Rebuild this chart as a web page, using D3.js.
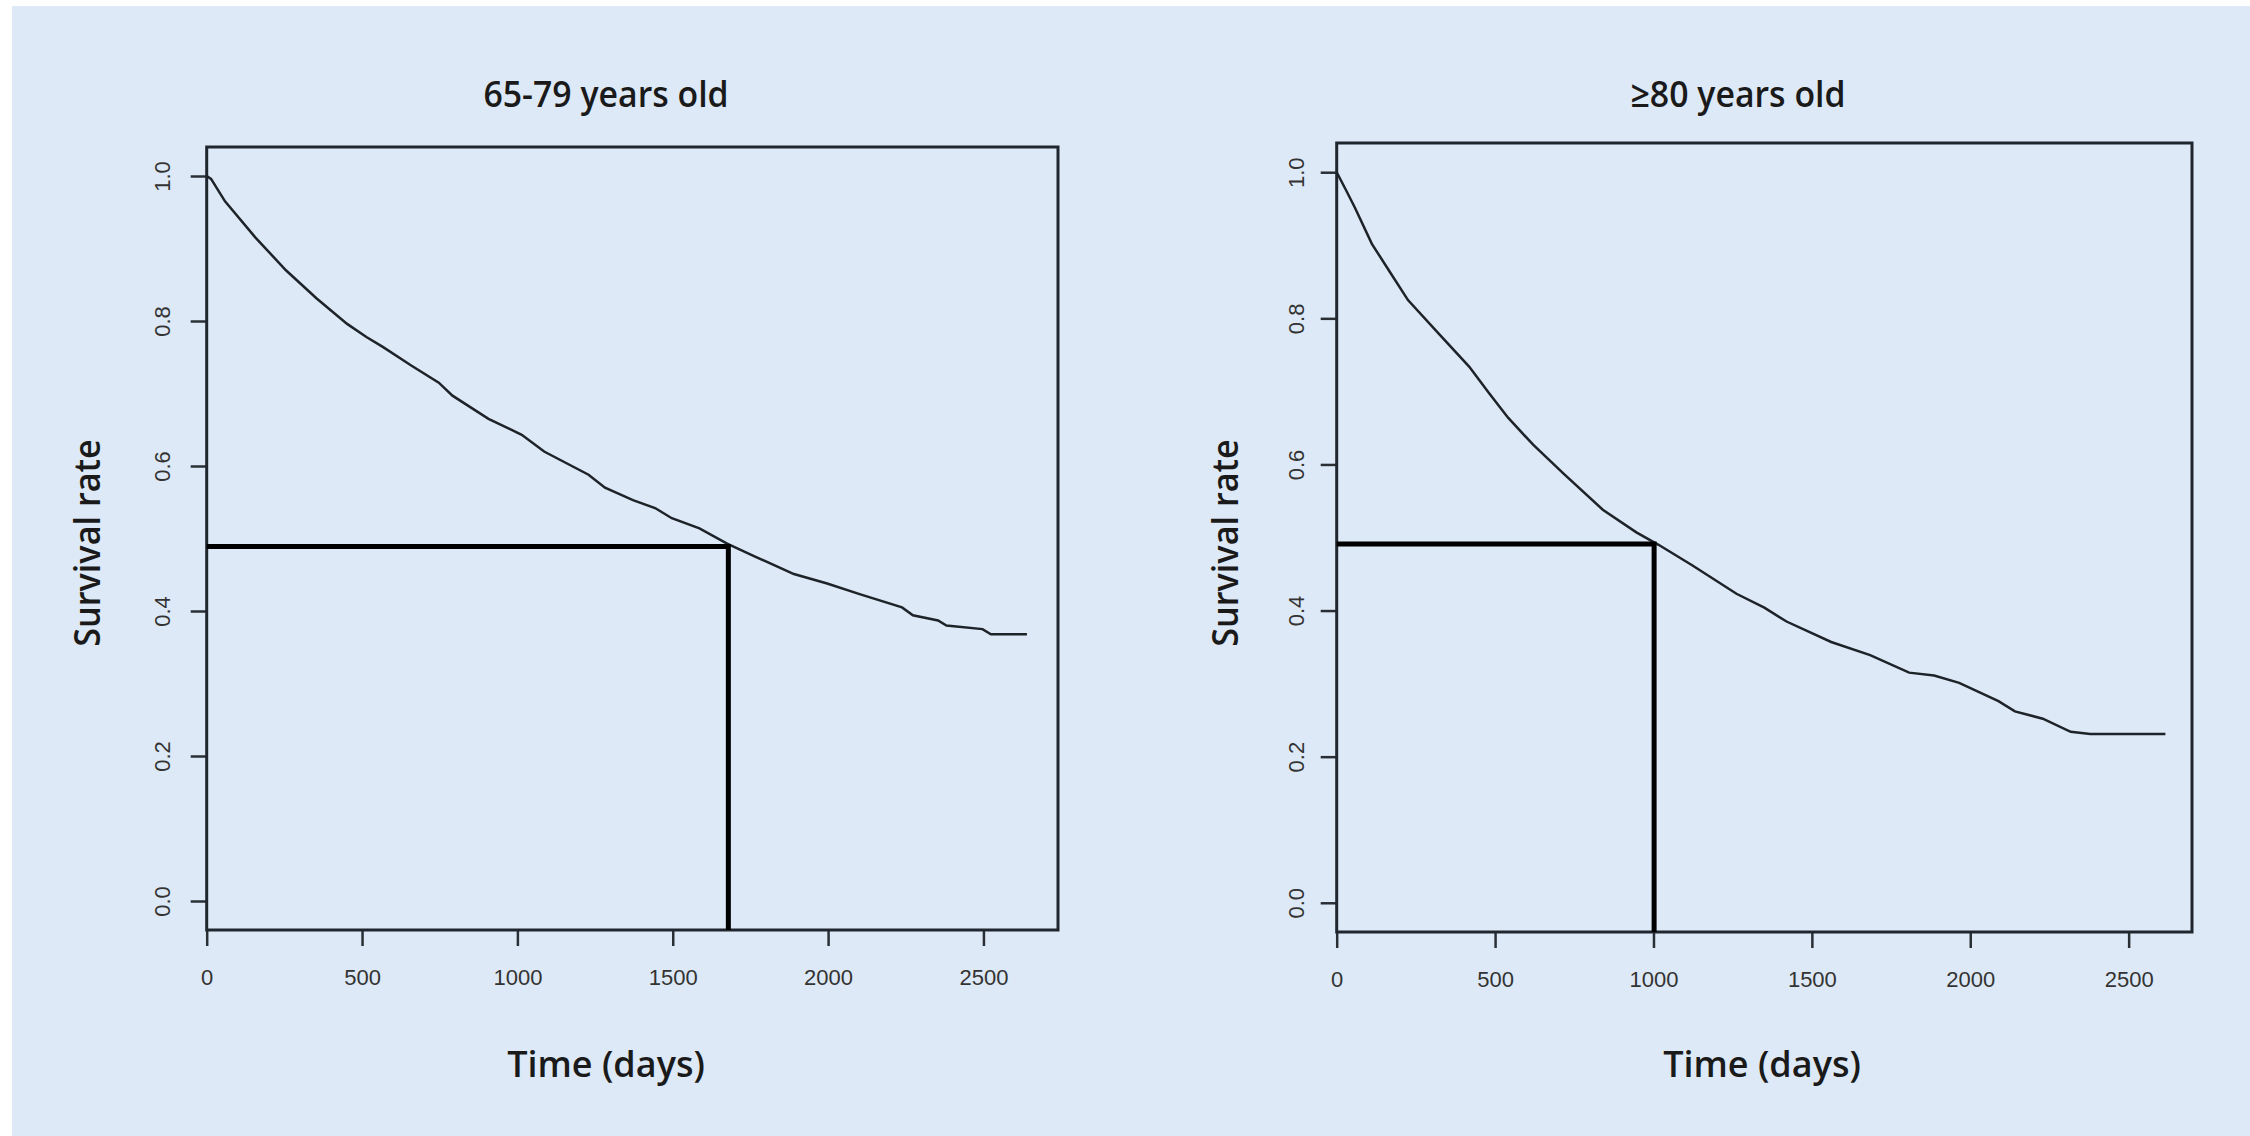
<!DOCTYPE html>
<html>
<head>
<meta charset="utf-8">
<script src="https://cdn.jsdelivr.net/npm/d3@7"></script>
<style>
  body { margin: 0; background: #ffffff; }
  .tick text { font-family: "Liberation Sans", Arial, sans-serif; font-size: 22px; fill: #333; }
  .lbl { font-family: "Open Sans", sans-serif; font-weight: 600; font-size: 36px; fill: #1a1a1a; }
</style>
</head>
<body>
<script>
// Kaplan-Meier curves
var titles = ["65-79 years old", "\u226580 years old"];

var days65 = [0, 14, 59, 157, 255, 354, 452, 514, 568, 657, 747, 791, 907, 1014, 1086, 1229, 1282, 1372, 1443, 1497, 1586, 1675, 1765, 1890, 1997, 2104, 2238, 2273, 2354, 2381, 2497, 2524, 2640];
var surv65 = [1.0, 0.996, 0.965, 0.915, 0.870, 0.831, 0.796, 0.778, 0.764, 0.739, 0.715, 0.697, 0.665, 0.643, 0.620, 0.588, 0.570, 0.553, 0.542, 0.528, 0.514, 0.493, 0.475, 0.451, 0.438, 0.423, 0.405, 0.394, 0.387, 0.380, 0.375, 0.368, 0.368];

var days80 = [0, 30, 58, 111, 170, 225, 322, 418, 480, 541, 620, 717, 840, 946, 1016, 1122, 1262, 1350, 1420, 1561, 1684, 1807, 1886, 1965, 2089, 2141, 2229, 2317, 2379, 2616];
var surv80 = [1.0, 0.975, 0.951, 0.902, 0.862, 0.825, 0.779, 0.734, 0.698, 0.664, 0.627, 0.587, 0.538, 0.507, 0.490, 0.462, 0.423, 0.404, 0.385, 0.357, 0.339, 0.315, 0.311, 0.301, 0.276, 0.262, 0.252, 0.234, 0.231, 0.231];

// median survival markers
var medianDays = [1679, 1002];
var medianSurv = [0.489, 0.491];

var xTicks = [0, 500, 1000, 1500, 2000, 2500];
var yTicks = [0.0, 0.2, 0.4, 0.6, 0.8, 1.0];

var width = 2250, height = 1136;

// panel layout
var panels = [
  {days: days65, surv: surv65, xMax: 2740, left: 206.7, right: 1058, top: 147, bottom: 930,
   titleX: 606, xLabX: 606, yLabX: 100, yTickOff: -37},
  {days: days80, surv: surv80, xMax: 2700, left: 1336.7, right: 2192, top: 143, bottom: 932,
   titleX: 1738, xLabX: 1762, yLabX: 1238, yTickOff: -33}
];

var svg = d3.select("body").append("svg")
            .attr("width", width)
            .attr("height", height);

svg.append("rect")
   .attr("x", 12).attr("y", 6)
   .attr("width", width - 12).attr("height", height - 6)
   .attr("fill", "#dde9f6");

panels.forEach(function(p, i){
    var x = d3.scaleLinear().domain([0, p.xMax]).range([p.left, p.right]);
    var y = d3.scaleLinear().domain([-0.04, 1.04]).range([p.bottom, p.top]);

    var g = svg.append("g");

    // x axis
    var xa = g.append("g")
              .attr("transform", "translate(0," + p.bottom + ")")
              .call(d3.axisBottom(x).tickValues(xTicks).tickSize(16).tickFormat(d3.format("d")));
    xa.select(".domain").remove();
    xa.selectAll("line").attr("stroke", "#2a2f36").attr("stroke-width", 2.5);
    xa.selectAll("text").attr("y", 55).attr("dy", 0);

    // y axis, labels rotated like base R
    var ya = g.append("g")
              .attr("transform", "translate(" + p.left + ",0)")
              .call(d3.axisLeft(y).tickValues(yTicks).tickSize(16).tickFormat(d3.format(".1f")));
    ya.select(".domain").remove();
    ya.selectAll("line").attr("stroke", "#2a2f36").attr("stroke-width", 2.5);
    ya.selectAll("text")
      .attr("x", 0).attr("dy", 0)
      .attr("text-anchor", "middle")
      .attr("transform", "translate(" + p.yTickOff + ",0) rotate(-90)");

    // frame
    g.append("rect")
     .attr("x", p.left).attr("y", p.top)
     .attr("width", p.right - p.left).attr("height", p.bottom - p.top)
     .attr("fill", "none")
     .attr("stroke", "#20262e")
     .attr("stroke-width", 3);

    // survival curve
    var pts = p.days.map(function(d, k){ return [d, p.surv[k]]; });
    var line = d3.line()
                 .x(function(d){ return x(d[0]); })
                 .y(function(d){ return y(d[1]); });
    g.append("path")
     .datum(pts)
     .attr("d", line)
     .attr("fill", "none")
     .attr("stroke", "#1e2329")
     .attr("stroke-width", 2.5);

    // median lines
    var md = medianDays[i], ms = medianSurv[i];
    g.append("path")
     .datum([[0, ms], [md, ms], [md, -0.04]])
     .attr("d", line)
     .attr("fill", "none")
     .attr("stroke", "#000")
     .attr("stroke-width", 5);

    // texts
    g.append("text").attr("class", "lbl")
     .attr("transform", "translate(" + p.titleX + ",107) scale(0.94,1)")
     .attr("text-anchor", "middle")
     .text(titles[i]);

    g.append("text").attr("class", "lbl")
     .attr("x", p.xLabX).attr("y", 1077)
     .attr("text-anchor", "middle")
     .text("Time (days)");

    g.append("text").attr("class", "lbl")
     .attr("transform", "translate(" + p.yLabX + ",543) rotate(-90) scale(0.95,1)")
     .attr("text-anchor", "middle")
     .text("Survival rate");
});
</script>
</body>
</html>
